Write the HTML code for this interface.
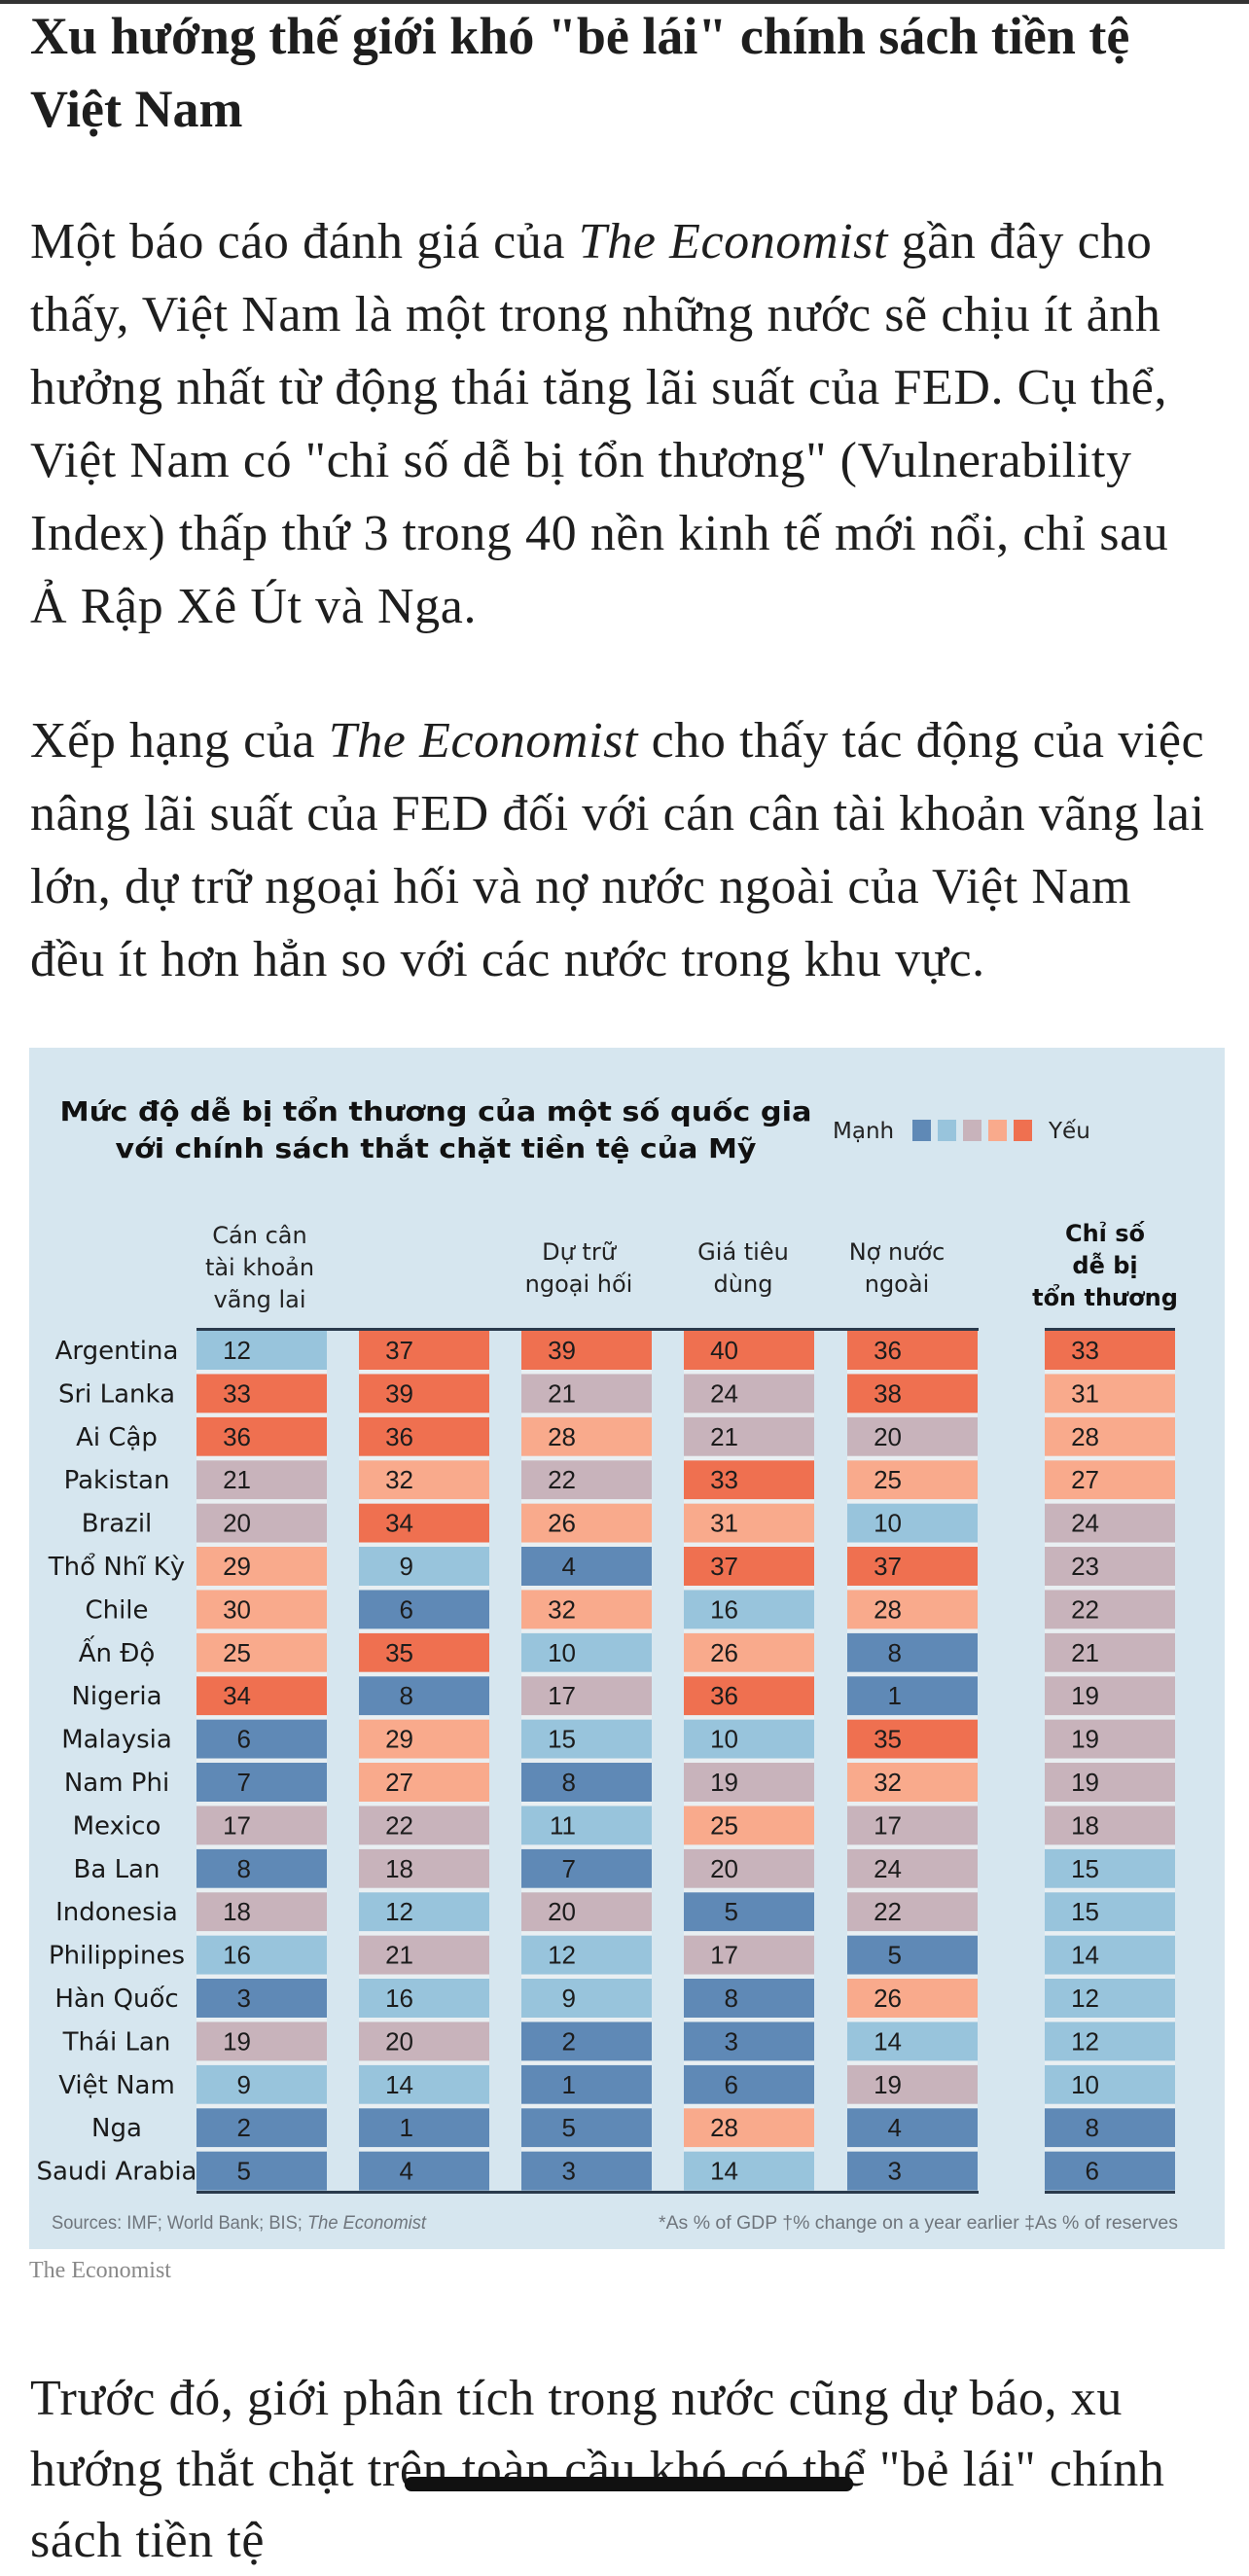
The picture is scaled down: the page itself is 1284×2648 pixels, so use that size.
<!DOCTYPE html>
<html><head><meta charset="utf-8">
<style>
html,body{margin:0;padding:0;background:#fff;}
body{width:1284px;height:2585px;position:relative;overflow:hidden;font-family:"Liberation Serif",serif;color:#1e1e1e;}
.topline{position:absolute;left:0;top:0;width:1284px;height:4px;background:#333;}
.t{position:absolute;left:31px;white-space:nowrap;font-size:52px;letter-spacing:0.6px;line-height:75px;}
.title{font-weight:bold;font-size:54px;letter-spacing:0;}
.redact{position:absolute;left:416px;top:2546px;width:461px;height:15px;background:#111;border-radius:7px;}
svg{position:absolute;left:0;top:1075px;}
</style></head>
<body>
<div class="topline"></div>
<div class="t title" style="top:0">Xu hướng thế giới khó "bẻ lái" chính sách tiền tệ<br>Việt Nam</div>
<div class="t" style="top:211px">Một báo cáo đánh giá của <i>The Economist</i> gần đây cho<br>thấy, Việt Nam là một trong những nước sẽ chịu ít ảnh<br>hưởng nhất từ động thái tăng lãi suất của FED. Cụ thể,<br>Việt Nam có "chỉ số dễ bị tổn thương" (Vulnerability<br>Index) thấp thứ 3 trong 40 nền kinh tế mới nổi, chỉ sau<br>Ả Rập Xê Út và Nga.</div>
<div class="t" style="top:724px">Xếp hạng của <i>The Economist</i> cho thấy tác động của việc<br>nâng lãi suất của FED đối với cán cân tài khoản vãng lai<br>lớn, dự trữ ngoại hối và nợ nước ngoài của Việt Nam<br>đều ít hơn hẳn so với các nước trong khu vực.</div>

<svg id="chart" width="1284" height="1290" viewBox="0 1075 1284 1290" font-family="DejaVu Sans, sans-serif">
<rect x="30" y="1077" width="1229" height="1235" fill="#d6e6ef"/>
<text x="448" y="1152" text-anchor="middle" font-weight="bold" font-size="28" fill="#111" textLength="773" lengthAdjust="spacingAndGlyphs">Mức độ dễ bị tổn thương của một số quốc gia</text>
<text x="448" y="1190" text-anchor="middle" font-weight="bold" font-size="28" fill="#111" textLength="659" lengthAdjust="spacingAndGlyphs">với chính sách thắt chặt tiền tệ của Mỹ</text>
<text x="856" y="1170" font-size="23" fill="#222">Mạnh</text>
<g id="legend"></g>
<text x="1078" y="1170" font-size="23" fill="#222">Yếu</text>
<g font-size="24" fill="#222" text-anchor="middle">
<text x="267" y="1278"><tspan x="267">Cán cân</tspan><tspan x="267" dy="33">tài khoản</tspan><tspan x="267" dy="33">vãng lai</tspan></text>
<text x="595" y="1295"><tspan x="595">Dự trữ</tspan><tspan x="595" dy="33">ngoại hối</tspan></text>
<text x="764" y="1295"><tspan x="764">Giá tiêu</tspan><tspan x="764" dy="33">dùng</tspan></text>
<text x="922" y="1295"><tspan x="922">Nợ nước</tspan><tspan x="922" dy="33">ngoài</tspan></text>
<text x="1136" y="1276" font-weight="bold" fill="#111"><tspan x="1136">Chỉ số</tspan><tspan x="1136" dy="33">dễ bị</tspan><tspan x="1136" dy="33">tổn thương</tspan></text>
</g>
<g id="cells"></g>
<rect x="202" y="1365" width="804" height="3" fill="#2a3a4c"/>
<rect x="1074" y="1365" width="134" height="3" fill="#2a3a4c"/>
<rect x="202" y="2252" width="804" height="3" fill="#2a3a4c"/>
<rect x="1074" y="2252" width="134" height="3" fill="#2a3a4c"/>
<text x="53" y="2291" font-family="Liberation Sans, sans-serif" font-size="19" fill="#6f757c" textLength="385" lengthAdjust="spacingAndGlyphs">Sources: IMF; World Bank; BIS; <tspan font-style="italic">The Economist</tspan></text>
<text x="677" y="2291" font-family="Liberation Sans, sans-serif" font-size="19" fill="#6f757c" textLength="534" lengthAdjust="spacingAndGlyphs">*As % of GDP   †% change on a year earlier   ‡As % of reserves</text>
<text x="30" y="2341" font-family="Liberation Serif, serif" font-size="24" fill="#888">The Economist</text>
</svg>

<div class="t" style="top:2429px;line-height:73px">Trước đó, giới phân tích trong nước cũng dự báo, xu<br>hướng thắt chặt trên toàn cầu khó có thể "bẻ lái" chính<br>sách tiền tệ</div>
<div class="redact"></div>

<script>
const countries = ["Argentina","Sri Lanka","Ai Cập","Pakistan","Brazil","Thổ Nhĩ Kỳ","Chile","Ấn Độ","Nigeria","Malaysia","Nam Phi","Mexico","Ba Lan","Indonesia","Philippines","Hàn Quốc","Thái Lan","Việt Nam","Nga","Saudi Arabia"];
const currentAccount = [12,33,36,21,20,29,30,25,34,6,7,17,8,18,16,3,19,9,2,5];
const secondMeasure = [37,39,36,32,34,9,6,35,8,29,27,22,18,12,21,16,20,14,1,4];
const reserves = [39,21,28,22,26,4,32,10,17,15,8,11,7,20,12,9,2,1,5,3];
const consumerPrices = [40,24,21,33,31,37,16,26,36,10,19,25,20,5,17,8,3,6,28,14];
const externalDebt = [36,38,20,25,10,37,28,8,1,35,32,17,24,22,5,26,14,19,4,3];
const vulnerabilityIndex = [33,31,28,27,24,23,22,21,19,19,19,18,15,15,14,12,12,10,8,6];

const NS = "http://www.w3.org/2000/svg";
const palette = ["#5f89b6","#98c4dc","#c8b3bb","#f9aa8c","#ef7050"];
function colorFor(v){ return palette[Math.min(4, Math.floor((v-1)/8))]; }
const colX = [202,369,536,703,871,1074];
const colW = 134;
function rowY(i){ return 1368 + i*44.4; }
const rowH = 40;

const cells = document.getElementById('cells');
const allSeries = [currentAccount, secondMeasure, reserves, consumerPrices, externalDebt, vulnerabilityIndex];

countries.forEach((c,i)=>{
  const lab = document.createElementNS(NS,'text');
  lab.setAttribute('x',120); lab.setAttribute('y',rowY(i)+29);
  lab.setAttribute('text-anchor','middle'); lab.setAttribute('font-size','26'); lab.setAttribute('fill','#1a1a1a');
  lab.textContent = c;
  
  
  cells.appendChild(lab);
  allSeries.forEach((s,j)=>{
    const r = document.createElementNS(NS,'rect');
    r.setAttribute('x',colX[j]); r.setAttribute('y',rowY(i));
    r.setAttribute('width',colW); r.setAttribute('height',rowH);
    r.setAttribute('fill',colorFor(s[i]));
    
    
    cells.appendChild(r);
    if(i>0){
      const g = document.createElementNS(NS,'rect');
      g.setAttribute('x',colX[j]); g.setAttribute('y',rowY(i)-4.4);
      g.setAttribute('width',colW); g.setAttribute('height',4.4);
      g.setAttribute('fill','#e9eff2');
      
      
      cells.appendChild(g);
    }
    const t = document.createElementNS(NS,'text');
    t.setAttribute('x',colX[j]+56); t.setAttribute('y',rowY(i)+29);
    t.setAttribute('text-anchor','end'); t.setAttribute('font-size','26');
    t.setAttribute('font-family','Liberation Sans, sans-serif'); t.setAttribute('fill','#1c1c1c');
    t.textContent = s[i];
    
    
    cells.appendChild(t);
  });
});

const legend = document.getElementById('legend');
for(let k=0;k<5;k++){
  const b = document.createElementNS(NS,'rect');
  b.setAttribute('x',938+k*26); b.setAttribute('y',1151);
  b.setAttribute('width',19); b.setAttribute('height',22);
  b.setAttribute('fill',palette[k]);
  
  
  legend.appendChild(b);
}
</script>
</body></html>
